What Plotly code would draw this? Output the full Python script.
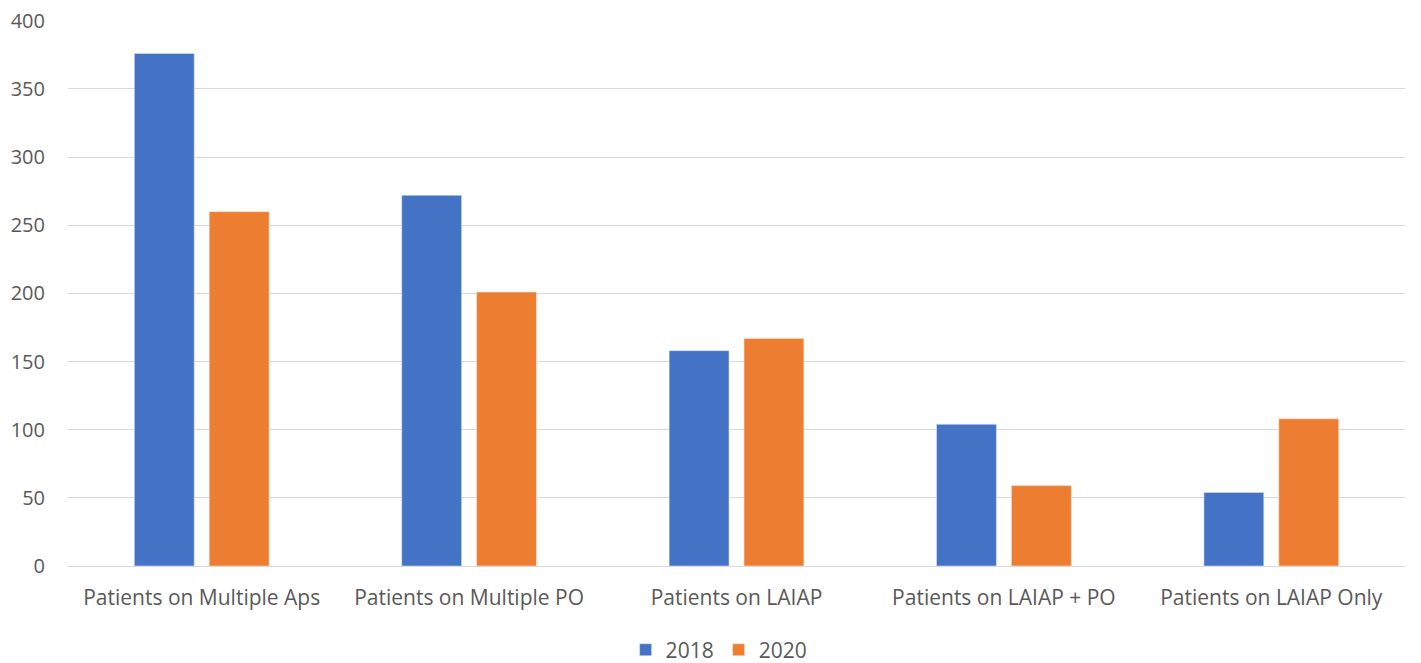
import plotly.graph_objects as go

categories = ["Patients on Multiple Aps", "Patients on Multiple PO", "Patients on LAIAP",
              "Patients on LAIAP + PO", "Patients on LAIAP Only"]
values_2018 = [376, 272, 158, 104, 54]
values_2020 = [260, 201, 167, 59, 108]
y_ticks = [0, 50, 100, 150, 200, 250, 300, 350, 400]

FONT = "Open Sans"
GRAY = "#595959"

fig = go.Figure()
fig.add_trace(go.Bar(name="2018", x=categories, y=values_2018,
                     marker=dict(color="#4472C4", line=dict(color="#DCE4F5", width=0.6))))
fig.add_trace(go.Bar(name="2020", x=categories, y=values_2020,
                     marker=dict(color="#ED7D31", line=dict(color="#FBE2D1", width=0.6))))

# page body has an 8px default margin, so the figure is slightly smaller than the window
fig.update_layout(
    width=1413, height=655,
    barmode="group", bargap=0.44, bargroupgap=0.2,
    plot_bgcolor="white", paper_bgcolor="white",
    margin=dict(l=60, r=16, t=12, b=97, autoexpand=False),
    font=dict(family=FONT, size=20, color=GRAY),
    legend=dict(orientation="h", x=0.487, xanchor="center", y=-0.154, yanchor="middle",
                font=dict(size=21, color=GRAY), itemwidth=30, traceorder="normal"),
    xaxis=dict(showline=True, linecolor="#D9D9D9", linewidth=1, ticks="",
               automargin=False, ticklabelstandoff=13, tickfont=dict(size=21, color=GRAY)),
    yaxis=dict(range=[0, 400.6], tickvals=y_ticks, showgrid=True, gridcolor="#D9D9D9",
               gridwidth=1, zeroline=False, ticks="", ticklabelstandoff=22,
               ticklabeloverflow="allow", automargin=False,
               tickfont=dict(size=20, color=GRAY)),
)

fig.write_html("out.html")
